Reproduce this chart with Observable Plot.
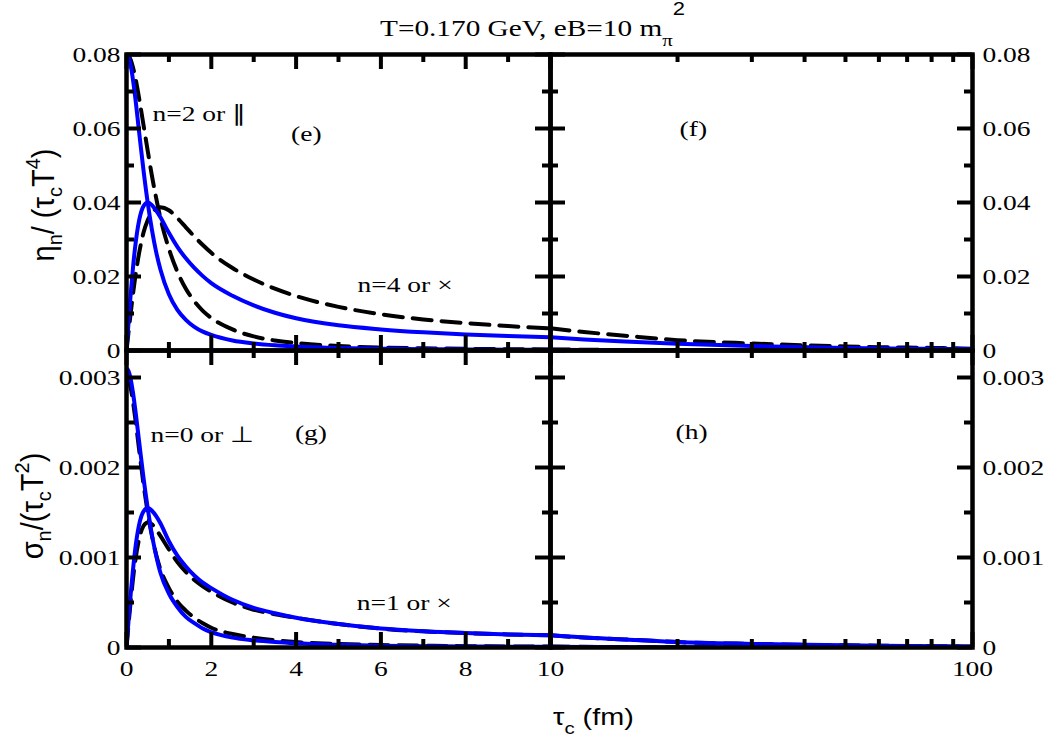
<!DOCTYPE html>
<html>
<head>
<meta charset="utf-8">
<script src="https://cdn.jsdelivr.net/npm/d3@7"></script>
<script src="https://cdn.jsdelivr.net/npm/@observablehq/plot@0.6"></script>
<style>
  html,body{margin:0;padding:0;background:#fff;}
  #chart{position:relative;width:1049px;height:738px;overflow:hidden;background:#fff;}
  #chart svg{position:absolute;overflow:visible;}
  #chart svg text{font-family:'Liberation Serif',serif !important;font-size:22px !important;}
  .t{position:absolute;white-space:nowrap;line-height:1;color:#000;}
  .s{position:relative;}
</style>
</head>
<body>
<div id="chart">
  <div class="t" style="left:380px;top:16px;font-family:'Liberation Serif';font-size:24px;transform:scaleX(1.22);transform-origin:0 0;">T=0.170 GeV, eB=10 m<span class="s" style="font-size:17px;top:10px;">π</span><span class="s" style="font-family:'Liberation Sans';font-size:18px;top:-21px;">2</span></div>
  <div class="t" style="left:553px;top:705px;font-family:'Liberation Sans';font-size:24px;transform:scaleX(1.2);transform-origin:0 0;">τ<span class="s" style="font-size:17px;top:9px;">c</span> (fm)</div>
  <div class="t" style="left:44px;top:205px;font-family:'Liberation Sans';font-size:29px;transform:translate(-50%,-50%) rotate(-90deg) scaleY(1.05);">η<span class="s" style="font-size:20px;top:8px;">n</span>/ (τ<span class="s" style="font-size:20px;top:8px;">c</span>T<span class="s" style="font-size:20px;top:-13px;">4</span>)</div>
  <div class="t" style="left:33px;top:506px;font-family:'Liberation Sans';font-size:29px;transform:translate(-50%,-50%) rotate(-90deg) scaleY(1.05);">σ<span class="s" style="font-size:20px;top:8px;">n</span>/(τ<span class="s" style="font-size:20px;top:8px;">c</span>T<span class="s" style="font-size:20px;top:-13px;">2</span>)</div>
</div>
<script>
// ---- data ----
const tau = [0, 0.05, 0.1, 0.15, 0.2, 0.3, 0.4, 0.5, 0.6, 0.7, 0.8, 1, 1.2, 1.4, 1.6, 1.8, 2, 2.5, 3, 3.5, 4, 5, 6, 7, 8, 9, 10, 12, 15, 20, 30, 40, 50, 60, 70, 80, 90, 100];

// eta_n/(tau_c T^4)
const etaParBlue = [0.0800, 0.0792, 0.0769, 0.0734, 0.0690, 0.0588, 0.0488, 0.0400, 0.0326, 0.0266, 0.0219, 0.0152, 0.0110, 0.0083, 0.0064, 0.0051, 0.0042, 0.0027, 0.0019, 0.0014, 0.0011, 0.0007, 0.0005, 0.00036, 0.00028, 0.00022, 0.00018, 0.00013, 0.00008, 0.00005, 0.00002, 0.000012, 0.000008, 0.000006, 0.000004, 0.000003, 0.0000025, 0.000002];
const etaCrossBlue = [0, 0.0079, 0.0154, 0.0220, 0.0276, 0.0353, 0.0390, 0.0400, 0.0393, 0.0378, 0.0360, 0.0318, 0.0280, 0.0249, 0.0223, 0.0201, 0.0182, 0.0148, 0.0122, 0.0102, 0.0087, 0.0068, 0.0057, 0.0049, 0.0043, 0.0039, 0.0036, 0.0030, 0.0024, 0.0018, 0.0012, 0.0009, 0.0007, 0.0006, 0.0005, 0.00045, 0.0004, 0.00035];
const etaParDash = [0.0800, 0.0796, 0.0785, 0.0766, 0.0742, 0.0680, 0.0610, 0.0540, 0.0472, 0.0412, 0.0358, 0.0275, 0.0213, 0.0167, 0.0133, 0.0107, 0.0088, 0.0057, 0.0038, 0.0027, 0.0020, 0.0012, 0.0008, 0.0006, 0.00045, 0.00036, 0.0003, 0.00021, 0.00014, 0.00008, 0.00004, 0.00002, 0.000015, 0.00001, 0.000008, 0.000006, 0.000005, 0.000004];
const etaCrossDash = [0, 0.0052, 0.0102, 0.0150, 0.0193, 0.0265, 0.0318, 0.0352, 0.0372, 0.0383, 0.0387, 0.0379, 0.0358, 0.0333, 0.0308, 0.0285, 0.0264, 0.0223, 0.0192, 0.0167, 0.0147, 0.0118, 0.0098, 0.0084, 0.0074, 0.0066, 0.0060, 0.0050, 0.0040, 0.0028, 0.0019, 0.0014, 0.0011, 0.0009, 0.0008, 0.0007, 0.0006, 0.0005];

// sigma_n/(tau_c T^2)
const sigPerpBlue = [0.00310, 0.00307, 0.00298, 0.00284, 0.00267, 0.00228, 0.00189, 0.00155, 0.00125, 0.00102, 0.00083, 0.00060, 0.00045, 0.00034, 0.00027, 0.00021, 0.00017, 0.00011, 0.00008, 0.00006, 0.000046, 0.00003, 0.00002, 0.000015, 0.000012, 0.0000095, 0.0000077, 0.0000054, 0.0000034, 0.0000019, 0.0000009, 0.0000005, 0.0000003, 0.0000002, 0.00000016, 0.00000012, 0.0000001, 0.00000008];
const sigCrossBlue = [0, 0.00031, 0.0006, 0.00085, 0.00107, 0.00137, 0.00151, 0.00155, 0.00152, 0.00146, 0.00138, 0.00118, 0.00102, 0.0009, 0.0008, 0.00072, 0.00066, 0.00053, 0.00044, 0.00038, 0.00033, 0.00026, 0.00021, 0.00018, 0.00016, 0.000145, 0.000135, 0.00011, 0.00009, 0.00006, 0.00004, 0.00003, 0.000024, 0.00002, 0.000017, 0.000015, 0.000013, 0.000012];
const sigPerpDash = [0.00300, 0.00297, 0.00288, 0.00274, 0.00257, 0.00219, 0.00182, 0.00150, 0.00124, 0.00103, 0.00087, 0.00066, 0.00051, 0.00041, 0.00033, 0.00027, 0.00022, 0.00015, 0.00011, 0.00008, 0.00006, 0.00004, 0.000028, 0.00002, 0.000015, 0.000012, 0.00001, 0.000007, 0.0000045, 0.0000025, 0.0000011, 0.0000006, 0.0000004, 0.0000003, 0.0000002, 0.00000015, 0.00000012, 0.0000001];
const sigCrossDash = [0, 0.00027, 0.00052, 0.00075, 0.00094, 0.00121, 0.00135, 0.00139, 0.00137, 0.00131, 0.00124, 0.00109, 0.00095, 0.00084, 0.00075, 0.00068, 0.00062, 0.0005, 0.00042, 0.00037, 0.00033, 0.00026, 0.00021, 0.00018, 0.00016, 0.000145, 0.000135, 0.00011, 0.00009, 0.00006, 0.00004, 0.00003, 0.000024, 0.00002, 0.000017, 0.000015, 0.000013, 0.000012];

// ticks and tick labels
const linDomain = [0, 10];
const logDomain = [10, 100];
const etaDomain = [0, 0.08];
const sigDomain = [0, 0.0033];
const linMajor = [0, 2, 4, 6, 8, 10];
const linMinor = [1, 3, 5, 7, 9];
const logMajor = [10, 100];
const logMinor = [20, 30, 40, 50, 60, 70, 80, 90];
const etaMajor = [0, 0.02, 0.04, 0.06, 0.08];
const etaMinor = [0.01, 0.03, 0.05, 0.07];
const etaLabels = ["0", "0.02", "0.04", "0.06", "0.08"];
const sigMajor = [0, 0.001, 0.002, 0.003];
const sigMinor = [0.0005, 0.0015, 0.0025];
const sigLabels = ["0", "0.001", "0.002", "0.003"];
const linLabelTicks = [0, 2, 4, 6, 8];
const linLabels = ["0", "2", "4", "6", "8"];
const logLabelTicks = [10, 100];
const logLabels = ["10", "100"];

// panel annotations (data units)
const notesE = [{x: 1.72, y: 0.0640, text: "n=2 or ∥"}, {x: 4.24, y: 0.0586, text: "(e)"}, {x: 6.57, y: 0.0176, text: "n=4 or ×"}];
const notesF = [{x: 21.8, y: 0.0600, text: "(f)"}];
const notesG = [{x: 1.79, y: 0.00236, text: "n=0 or ⊥"}, {x: 4.35, y: 0.00238, text: "(g)"}, {x: 6.55, y: 0.0005, text: "n=1 or ×"}];
const notesH = [{x: 21.6, y: 0.00239, text: "(h)"}];

// ---- drawing ----
const S = 1.25;            // horizontal text stretch of the reference
const chart = document.getElementById("chart");
const ML = 90, MR = 90, MT = 20, MB = 50, TK = 15, TKm = 8, LW = 4;
const FL = 126, FM = 550, FR = 972, FT = 54, FMID = 350, FB = 647;

function rows(vals) { return tau.map((t, i) => ({t, v: vals[i]})); }

function makePanel(p) {
  const w = p.x1 - p.x0, h = p.y1 - p.y0;
  const keep = p.log ? (d => d.t >= 10) : (d => d.t <= 10);
  const marks = [];
  p.dashed.forEach(vals => marks.push(Plot.line(rows(vals).filter(keep), {x: "t", y: "v", stroke: "#000", strokeWidth: LW, strokeDasharray: "19,10", curve: "monotone-x", clip: true})));
  p.solid.forEach(vals => marks.push(Plot.line(rows(vals).filter(keep), {x: "t", y: "v", stroke: "#0000ff", strokeWidth: LW, curve: "monotone-x", clip: true})));
  const tk = {stroke: "#000", strokeWidth: 4};
  const xMaj = p.log ? logMajor : linMajor, xMin = p.log ? logMinor : linMinor;
  marks.push(
    Plot.tickX(xMaj, {x: d => d, insetBottom: h - TK, ...tk}),
    Plot.tickX(xMaj, {x: d => d, insetTop: h - TK, ...tk}),
    Plot.tickX(xMin, {x: d => d, insetBottom: h - TKm, ...tk}),
    Plot.tickX(xMin, {x: d => d, insetTop: h - TKm, ...tk}),
    Plot.tickY(p.yMajor, {y: d => d, insetRight: w - TK, ...tk}),
    Plot.tickY(p.yMajor, {y: d => d, insetLeft: w - TK, ...tk}),
    Plot.tickY(p.yMinor, {y: d => d, insetRight: w - TKm, ...tk}),
    Plot.tickY(p.yMinor, {y: d => d, insetLeft: w - TKm, ...tk}),
    Plot.frame({stroke: "#000", strokeWidth: 4.5}),
    Plot.text(p.notes, {x: "x", y: "y", text: "text", fontSize: 22, fill: "#000"}),
    Plot.axisY({anchor: p.yAnchor, ticks: p.yMajor, tickFormat: d => p.yLabels[p.yMajor.indexOf(d)], tickSize: 0, tickPadding: p.yAnchor === "left" ? 6 : 10, label: null, fontSize: 22})
  );
  if (p.xTicks) marks.push(Plot.axisX({anchor: "bottom", ticks: p.xTicks, tickFormat: d => p.xLabels[p.xTicks.indexOf(d)], tickSize: 0, tickPadding: 13, label: null, fontSize: 22}));
  const svg = Plot.plot({
    width: w + ML + MR, height: h + MT + MB,
    marginLeft: ML, marginRight: MR, marginTop: MT, marginBottom: MB,
    x: {type: p.log ? "log" : "linear", domain: p.log ? logDomain : linDomain, axis: p.xTicks ? undefined : null},
    y: {type: "linear", domain: p.yDomain},
    style: {background: "transparent", fontFamily: "'Liberation Serif', serif", fontSize: "22px", color: "#000", overflow: "visible"},
    marks
  });
  svg.style.left = (p.x0 - ML) + "px";
  svg.style.top = (p.y0 - MT) + "px";
  svg.style.maxWidth = "none";
  chart.appendChild(svg);
  svg.querySelectorAll("text").forEach(t => {
    t.style.fontFamily = "'Liberation Serif', serif";
    t.style.fontSize = "22px";
    t.style.fontWeight = "normal";
    const x = +(t.getAttribute("x") || 0);
    const tr = t.getAttribute("transform") || "";
    t.setAttribute("transform", `${tr} translate(${x},0) scale(${S},1) translate(${-x},0)`);
  });
}

makePanel({x0: FL, x1: FM, y0: FT, y1: FMID, log: false, yDomain: etaDomain, yMajor: etaMajor, yMinor: etaMinor, yLabels: etaLabels, yAnchor: "left",
  dashed: [etaParDash, etaCrossDash], solid: [etaParBlue, etaCrossBlue], notes: notesE});
makePanel({x0: FM, x1: FR, y0: FT, y1: FMID, log: true, yDomain: etaDomain, yMajor: etaMajor, yMinor: etaMinor, yLabels: etaLabels, yAnchor: "right",
  dashed: [etaParDash, etaCrossDash], solid: [etaParBlue, etaCrossBlue], notes: notesF});
makePanel({x0: FL, x1: FM, y0: FMID, y1: FB, log: false, yDomain: sigDomain, yMajor: sigMajor, yMinor: sigMinor, yLabels: sigLabels, yAnchor: "left",
  dashed: [sigPerpDash, sigCrossDash], solid: [sigPerpBlue, sigCrossBlue], notes: notesG, xTicks: linLabelTicks, xLabels: linLabels});
makePanel({x0: FM, x1: FR, y0: FMID, y1: FB, log: true, yDomain: sigDomain, yMajor: sigMajor, yMinor: sigMinor, yLabels: sigLabels, yAnchor: "right",
  dashed: [sigPerpDash, sigCrossDash], solid: [sigPerpBlue, sigCrossBlue], notes: notesH, xTicks: logLabelTicks, xLabels: logLabels});
</script>
</body>
</html>
